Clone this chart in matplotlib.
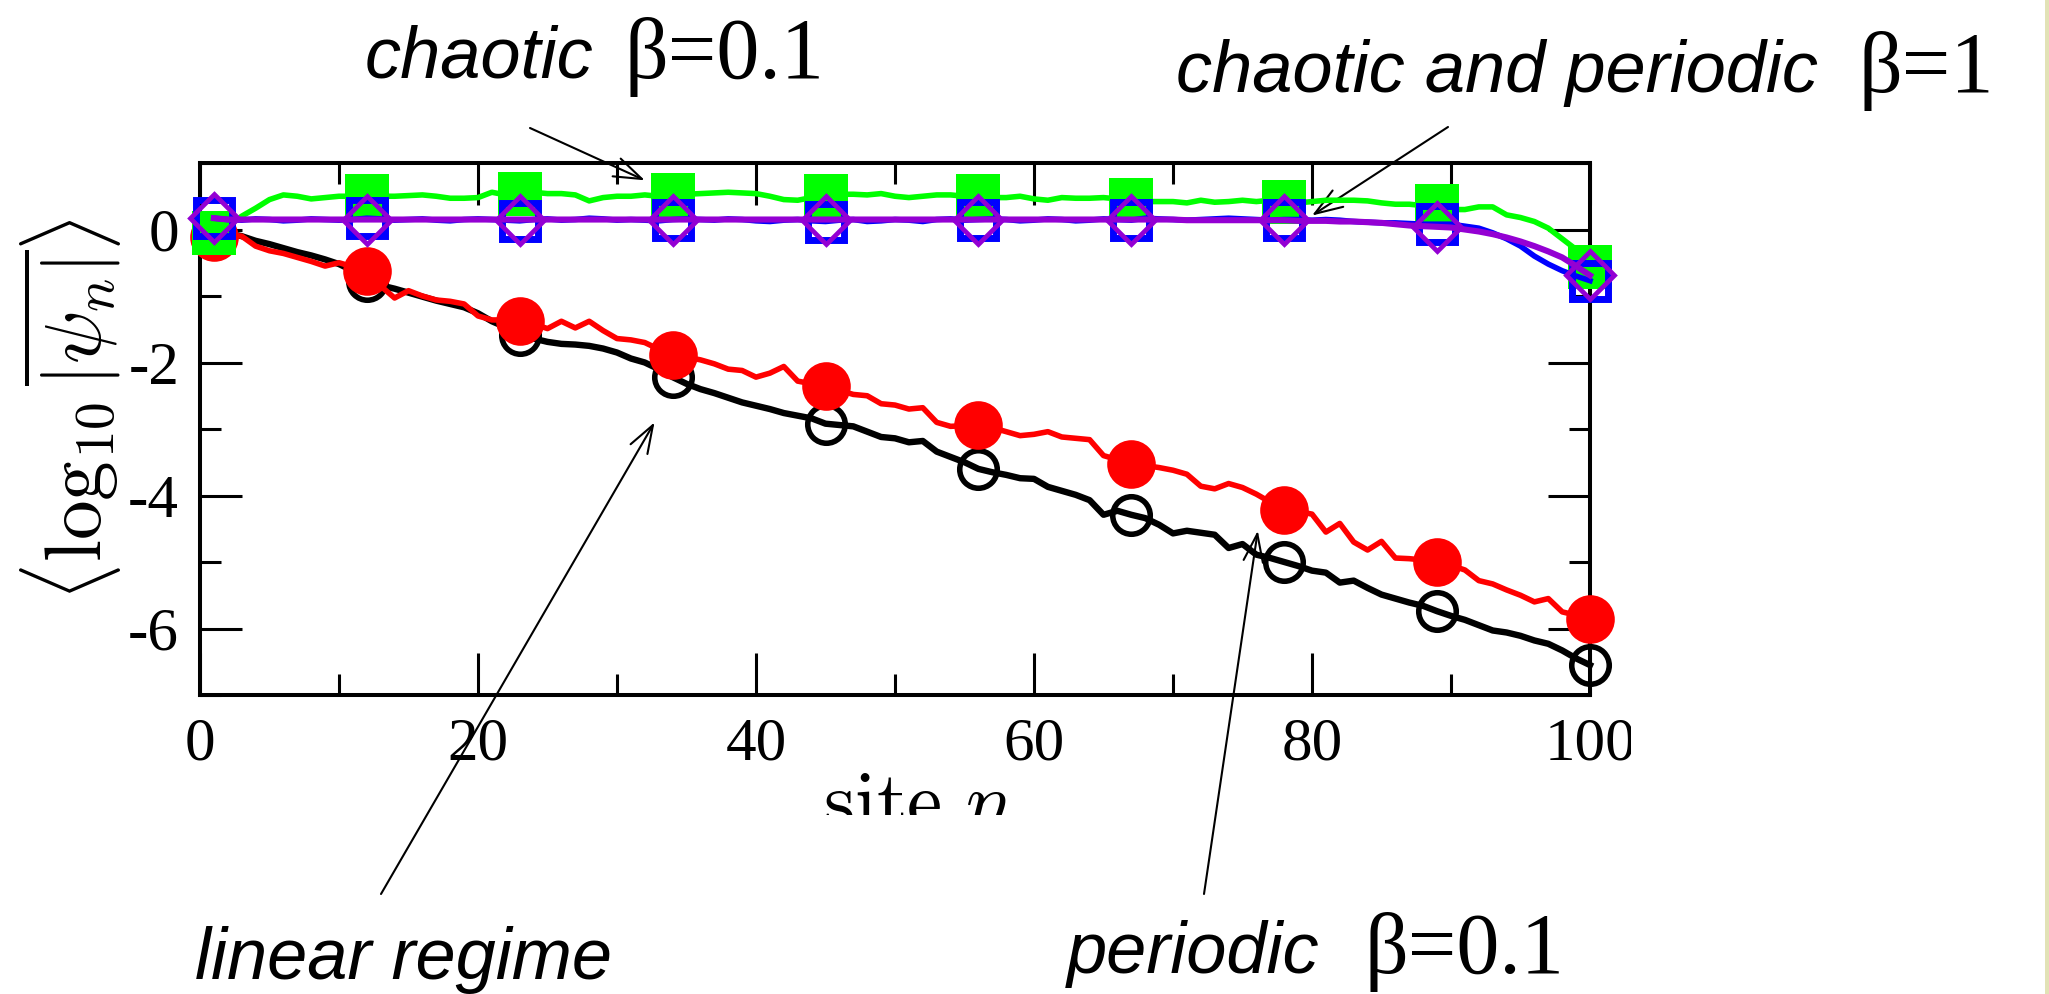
import matplotlib
matplotlib.use('Agg')
import matplotlib.pyplot as plt
from matplotlib.transforms import Bbox
from matplotlib.patches import Rectangle
from matplotlib.ticker import MultipleLocator
import numpy as np

W, H, DPI = 2049, 994, 100

sites = np.arange(1, 101)

# linear regime (black, open circles)
linear = [-0.05, -0.06, -0.10, -0.17, -0.22, -0.28, -0.34, -0.39, -0.45, -0.52,
          -0.62, -0.78, -0.84, -0.89, -0.95, -1.01, -1.07, -1.12, -1.17, -1.26,
          -1.38, -1.47, -1.58, -1.64, -1.69, -1.72, -1.73, -1.75, -1.79, -1.85,
          -1.94, -2.00, -2.10, -2.22, -2.32, -2.40, -2.46, -2.53, -2.60, -2.65,
          -2.70, -2.76, -2.80, -2.84, -2.92, -2.94, -2.96, -3.04, -3.12, -3.14,
          -3.20, -3.18, -3.34, -3.42, -3.50, -3.60, -3.65, -3.69, -3.74, -3.75,
          -3.87, -3.93, -3.99, -4.07, -4.29, -4.23, -4.29, -4.34, -4.44, -4.57,
          -4.53, -4.56, -4.59, -4.79, -4.73, -4.89, -4.94, -5.00, -5.06, -5.13,
          -5.16, -5.31, -5.28, -5.39, -5.49, -5.55, -5.61, -5.66, -5.74, -5.81,
          -5.87, -5.95, -6.03, -6.06, -6.11, -6.18, -6.23, -6.33, -6.45, -6.55]

# periodic beta=0.1 (red, filled circles)
periodic01 = [-0.12, -0.08, -0.10, -0.25, -0.32, -0.36, -0.42, -0.48, -0.55, -0.50,
              -0.56, -0.62, -0.85, -1.03, -0.92, -1.00, -1.06, -1.08, -1.12, -1.30,
              -1.36, -1.36, -1.38, -1.42, -1.49, -1.38, -1.48, -1.38, -1.52, -1.64,
              -1.66, -1.70, -1.80, -1.89, -1.92, -1.96, -2.02, -2.10, -2.12, -2.22,
              -2.16, -2.06, -2.28, -2.32, -2.35, -2.42, -2.48, -2.50, -2.62, -2.64,
              -2.70, -2.68, -2.90, -2.96, -2.95, -2.94, -2.98, -3.04, -3.10, -3.08,
              -3.04, -3.12, -3.14, -3.16, -3.40, -3.46, -3.52, -3.55, -3.58, -3.62,
              -3.68, -3.86, -3.90, -3.82, -3.88, -3.98, -4.10, -4.22, -4.24, -4.28,
              -4.55, -4.42, -4.70, -4.82, -4.69, -4.94, -4.95, -4.97, -5.00, -5.05,
              -5.12, -5.28, -5.33, -5.42, -5.50, -5.60, -5.55, -5.75, -5.80, -5.85]

# chaotic beta=0.1 (green, filled squares)
chaotic01 = [-0.05, 0.05, 0.20, 0.32, 0.45, 0.52, 0.50, 0.46, 0.48, 0.50,
             0.50, 0.50, 0.50, 0.50, 0.51, 0.52, 0.50, 0.47, 0.47, 0.48,
             0.56, 0.52, 0.54, 0.56, 0.54, 0.54, 0.52, 0.43, 0.48, 0.50,
             0.50, 0.52, 0.50, 0.52, 0.53, 0.54, 0.55, 0.56, 0.55, 0.54,
             0.50, 0.45, 0.44, 0.48, 0.51, 0.53, 0.53, 0.52, 0.54, 0.50,
             0.48, 0.50, 0.52, 0.52, 0.50, 0.50, 0.48, 0.48, 0.50, 0.46,
             0.44, 0.48, 0.47, 0.47, 0.48, 0.46, 0.44, 0.42, 0.42, 0.42,
             0.40, 0.44, 0.41, 0.42, 0.44, 0.42, 0.44, 0.42, 0.40, 0.42,
             0.44, 0.44, 0.44, 0.43, 0.40, 0.38, 0.38, 0.36, 0.36, 0.30,
             0.30, 0.34, 0.34, 0.22, 0.18, 0.12, 0.02, -0.14, -0.30, -0.57]

# chaotic and periodic beta=1 (blue, open squares)
chaotic1 = [0.17, 0.15, 0.14, 0.16, 0.15, 0.13, 0.14, 0.16, 0.15, 0.14,
            0.15, 0.17, 0.16, 0.14, 0.15, 0.16, 0.14, 0.13, 0.15, 0.16,
            0.15, 0.14, 0.13, 0.15, 0.16, 0.14, 0.15, 0.17, 0.16, 0.14,
            0.15, 0.14, 0.13, 0.15, 0.16, 0.15, 0.14, 0.16, 0.15, 0.13,
            0.12, 0.14, 0.15, 0.13, 0.12, 0.14, 0.15, 0.12, 0.13, 0.15,
            0.14, 0.12, 0.15, 0.16, 0.14, 0.15, 0.16, 0.15, 0.13, 0.14,
            0.16, 0.15, 0.13, 0.14, 0.16, 0.15, 0.14, 0.17, 0.16, 0.15,
            0.14, 0.15, 0.16, 0.17, 0.16, 0.15, 0.14, 0.15, 0.15, 0.14,
            0.15, 0.14, 0.12, 0.11, 0.10, 0.10, 0.09, 0.08, 0.08, 0.08,
            0.05, 0.02, -0.05, -0.14, -0.25, -0.40, -0.52, -0.62, -0.70, -0.77]

# periodic beta=1 (purple, open diamonds)
periodic1 = [0.17, 0.15, 0.15, 0.15, 0.15, 0.15, 0.15, 0.15, 0.15, 0.15,
             0.15, 0.15, 0.15, 0.15, 0.15, 0.15, 0.15, 0.15, 0.15, 0.15,
             0.15, 0.15, 0.15, 0.15, 0.15, 0.15, 0.15, 0.15, 0.15, 0.15,
             0.15, 0.15, 0.15, 0.15, 0.15, 0.15, 0.15, 0.15, 0.15, 0.15,
             0.15, 0.15, 0.15, 0.15, 0.15, 0.15, 0.15, 0.15, 0.15, 0.15,
             0.15, 0.15, 0.15, 0.15, 0.15, 0.15, 0.15, 0.15, 0.15, 0.15,
             0.15, 0.15, 0.15, 0.15, 0.15, 0.15, 0.15, 0.15, 0.15, 0.15,
             0.14, 0.14, 0.14, 0.14, 0.14, 0.14, 0.14, 0.14, 0.13, 0.13,
             0.13, 0.12, 0.12, 0.11, 0.10, 0.08, 0.06, 0.05, 0.04, 0.03,
             0.00, -0.03, -0.07, -0.12, -0.18, -0.25, -0.33, -0.42, -0.55, -0.69]

x_ticks = [0, 20, 40, 60, 80, 100]
x_labels = ['0', '20', '40', '60', '80', '100']
y_ticks = [-6, -4, -2, 0]
y_labels = ['-6', '-4', '-2', '0']

plt.rcParams['mathtext.fontset'] = 'cm'
plt.rcParams['axes.unicode_minus'] = False
plt.rcParams['font.family'] = ['Liberation Serif', 'DejaVu Serif']

fig = plt.figure(figsize=(W / DPI, H / DPI), dpi=DPI)
fig.patch.set_facecolor('white')
fig.patches.append(Rectangle((2045 / W, 0), 4 / W, 1, transform=fig.transFigure,
                             facecolor='#e2e2b6', edgecolor='none', zorder=0))

ax = fig.add_axes([200 / W, 1 - 695 / H, 1390 / W, 532 / H])

ax.plot(sites, linear, color='black', lw=4.6, marker='o', markevery=11, ms=27,
        mfc='none', mec='black', mew=4.0, zorder=2, clip_on=False)
ax.plot(sites, periodic01, color='red', lw=4.0, marker='o', markevery=11, ms=35,
        mfc='red', mec='red', mew=0, zorder=3, clip_on=False)
ax.plot(sites, chaotic01, color='#00ff00', lw=4.0, marker='s', markevery=11, ms=31,
        mfc='#00ff00', mec='#00ff00', mew=0, zorder=4, clip_on=False)
ax.plot(sites, chaotic1, color='blue', lw=4.0, marker='s', markevery=11, ms=26,
        mfc='none', mec='blue', mew=5, zorder=5, clip_on=False)
ax.plot(sites, periodic1, color='#9400d3', lw=4.4, marker='D', markevery=11, ms=24,
        mfc='none', mec='#9400d3', mew=3.4, zorder=6, clip_on=False)

ax.set_xlim(0, 100)
ax.set_ylim(-7, 1)
ax.set_xticks(x_ticks)
ax.set_xticklabels(x_labels)
ax.set_yticks(y_ticks)
ax.set_yticklabels(y_labels)
ax.xaxis.set_minor_locator(MultipleLocator(10))
ax.yaxis.set_minor_locator(MultipleLocator(1))
ax.tick_params(which='both', direction='in', top=True, right=True, width=2.2)
ax.tick_params(which='major', length=30)
ax.tick_params(which='minor', length=15)
ax.tick_params(axis='x', labelsize=44, pad=16)
ax.tick_params(axis='y', labelsize=44, pad=15)
for s in ax.spines.values():
    s.set_linewidth(2.9)

for lbl in ax.get_xticklabels():
    lbl.set_clip_box(Bbox([[0, 0], [1631, H]]))
    lbl.set_clip_on(True)

xl = ax.set_xlabel(r'$\mathrm{site}\ n$', fontsize=57)
ax.xaxis.set_label_coords((918 - 200) / 1390, (695 - 772) / 532)
xl.set_clip_box(Bbox([[0, H - 815], [W, H]]))
xl.set_clip_on(True)

yl = ax.set_ylabel(r'$\left\langle \log_{10} \overline{|\psi_n|} \right\rangle$',
                   fontsize=57)
yl.set_ha('center')
yl.set_va('center')
yl.set_rotation_mode('anchor')
ax.yaxis.set_label_coords(-(200 - 71) / 1390, (695 - 410) / 532)


def fx(px):
    return px / W


def fy(py):
    return 1 - py / H


ital = dict(family=['Liberation Sans', 'DejaVu Sans'], style='italic', fontsize=52,
            va='baseline', ha='left')
rom = dict(family=['Liberation Serif', 'DejaVu Serif'], fontsize=62, va='baseline', ha='left')

fig.text(fx(365), fy(78), 'chaotic', **ital)
fig.text(fx(625), fy(78), 'β=0.1', **rom)
fig.text(fx(1176), fy(92), 'chaotic and periodic', **ital)
fig.text(fx(1858), fy(92), 'β=1', **rom)
fig.text(fx(195), fy(979), 'linear regime', **ital)
fig.text(fx(1067), fy(973), 'periodic', **ital)
fig.text(fx(1364), fy(973), 'β=0.1', **rom)

arrow = dict(arrowstyle='->,head_length=1.0,head_width=0.35', lw=1.5, color='black',
             shrinkA=0, shrinkB=0, mutation_scale=20)
ax.annotate('', xy=(32.0, 0.74), xycoords='data', xytext=(530, H - 128),
            textcoords='figure pixels', arrowprops=arrow, annotation_clip=False)
ax.annotate('', xy=(80.0, 0.21), xycoords='data', xytext=(1448, H - 127),
            textcoords='figure pixels', arrowprops=arrow, annotation_clip=False)
ax.annotate('', xy=(32.7, -2.90), xycoords='data', xytext=(381, H - 894),
            textcoords='figure pixels', arrowprops=arrow, annotation_clip=False)
ax.annotate('', xy=(76.1, -4.53), xycoords='data', xytext=(1204, H - 894),
            textcoords='figure pixels', arrowprops=arrow, annotation_clip=False)

fig.savefig('out.png', dpi=DPI)
